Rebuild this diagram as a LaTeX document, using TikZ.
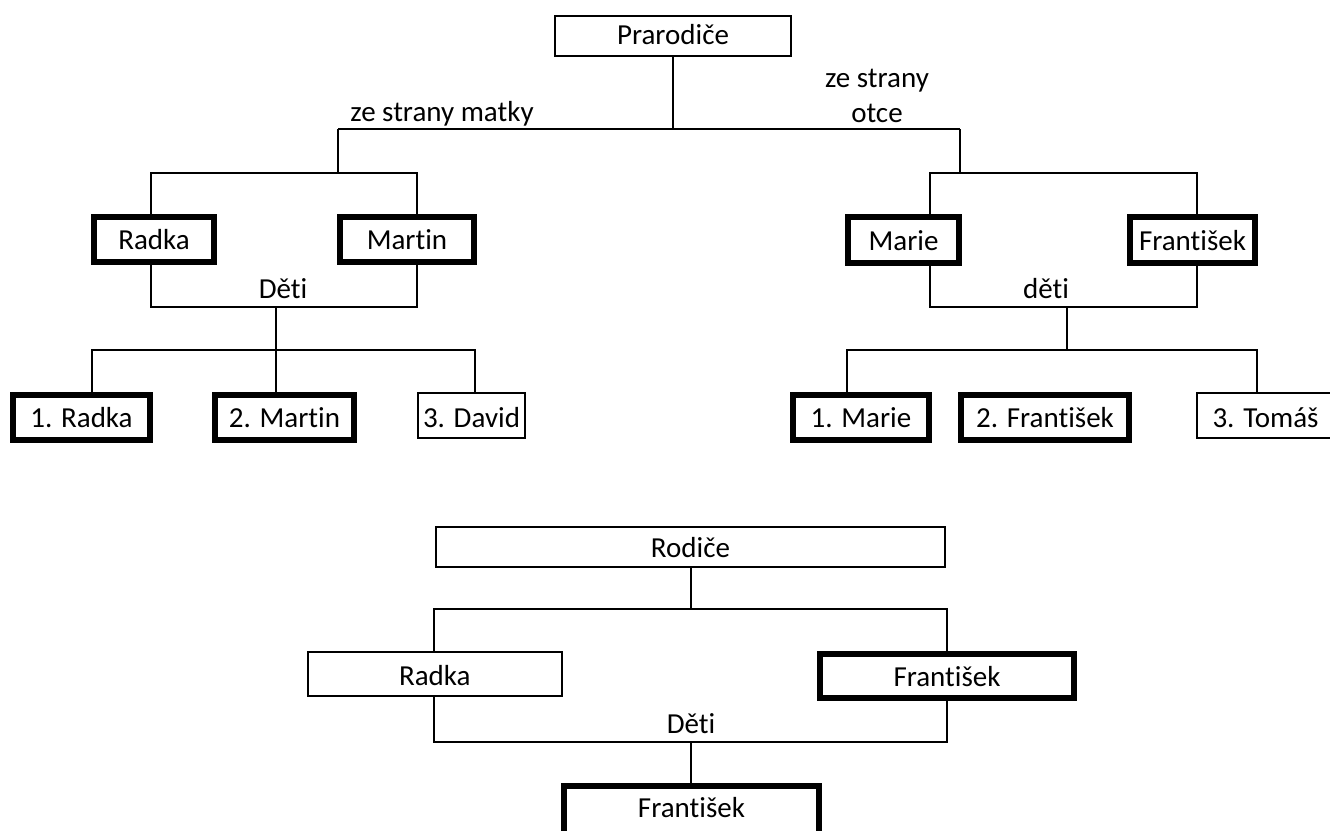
\documentclass[tikz,border=0pt]{standalone}
\usepackage{fontspec}
\setmainfont{Carlito}[Ligatures=NoCommon]
\begin{document}
\begin{tikzpicture}[x=1pt,y=-1pt,
  every node/.style={font=\fontsize{29}{35}\selectfont, inner sep=0pt,
    text height=20pt, text depth=0pt},
  thinbox/.style 2 args={draw, line width=2pt, minimum width=#1, minimum height=#2},
  thickbox/.style 2 args={draw, line width=6pt, minimum width=#1, minimum height=#2},
  low/.style={text height=23pt},
  link/.style={line width=2pt},
  caption/.style={anchor=base}]
\useasboundingbox (0,0) rectangle (1330,830);
\clip (0,0) rectangle (1330,830);

% ---- grandparents ----
\node[thinbox={236}{40}, text height=17pt] (pra) at (673,36) {Prarodiče};

% mother's side
\node[thickbox={120}{45}] (radka) at (154,239.5) {Radka};
\node[thickbox={134}{45}] (martin) at (407,239.5) {Martin};
\node[thickbox={137}{45}] (c1L) at (81.5,417.5) {1. Radka};
\node[thickbox={139}{45}] (c2L) at (284.5,417.5) {2. Martin};
\node[thinbox={107}{45}, low] (c3L) at (471.5,415.5) {3. David};

% father's side
\node[thickbox={111}{46}] (marie) at (903.5,240) {Marie};
\node[thickbox={125}{46}] (frant) at (1192.5,240) {František};
\node[thickbox={136}{45}] (c1R) at (861,417.5) {1. Marie};
\node[thickbox={168}{45}] (c2R) at (1045,417.5) {2. František};
\node[thinbox={150}{45}, low] (c3R) at (1272,415.5) {3. Tomáš\hspace*{13pt}};

% ---- parents ----
\node[thinbox={509}{40}] (rod) at (690.5,547) {Rodiče};
\node[thinbox={254.5}{44}, low] (mom) at (434.75,674) {Radka};
\node[thickbox={254}{44}] (dad) at (947,676) {František};
\node[thickbox={255}{50}, text height=12pt] (kid) at (691.5,811) {František};

% captions
\node[caption] (sideM) at (442,121) {ze strany matky};
\node[caption, align=center] (sideF) at (877,122) {ze strany\\otce};
\node[caption] (detiL) at (283,298) {Děti};
\node[caption] (detiR) at (1046,298) {děti};
\node[caption] (detiB) at (691,733) {Děti};

% junction points
\coordinate (mL) at (338,129);  \coordinate (mR) at (960,129);
\coordinate (gL) at (338,173);  \coordinate (gR) at (960,173);
\coordinate (aL) at (151,173);  \coordinate (bL) at (417,173);
\coordinate (dL) at (417,307);  \coordinate (eL) at (276,307);
\coordinate (fL1) at (92,350);  \coordinate (fL3) at (475,350);
\coordinate (aR) at (930,173);  \coordinate (bR) at (1197,173);
\coordinate (dR) at (1197,307); \coordinate (eR) at (1067,307);
\coordinate (hR) at (1067,350);
\coordinate (fR1) at (846.5,350); \coordinate (fR3) at (1257,350);
\coordinate (jB) at (691,609);  \coordinate (aB) at (434,609);
\coordinate (bB) at (947,609);  \coordinate (dB) at (947,742);
\coordinate (eB) at (691,742);

% grandparents tree
\draw[link] (pra.south) -- (pra.south |- mL);
\draw[link] (mL) -- (mR);
\draw[link] (mL) -- (gL);
\draw[link] (mR) -- (gR);

\draw[link] (radka.north -| aL) -- (aL) -- (bL) -- (martin.north -| bL);
\draw[link] (radka.south -| aL) |- (dL) -- (martin.south -| bL);
\draw[link] (eL) -- (c2L.north -| eL);
\draw[link] (c1L.north -| fL1) |- (fL3) -- (c3L.north -| fL3);

\draw[link] (marie.north -| aR) -- (aR) -- (bR) -- (frant.north -| bR);
\draw[link] (marie.south -| aR) |- (dR) -- (frant.south -| bR);
\draw[link] (eR) -- (hR);
\draw[link] (c1R.north -| fR1) |- (fR3) -- (c3R.north -| fR3);

% parents tree
\draw[link] (rod.south -| jB) -- (jB);
\draw[link] (mom.north -| aB) -- (aB) -- (bB) -- (dad.north -| bB);
\draw[link] (mom.south -| aB) |- (dB) -- (dad.south -| bB);
\draw[link] (eB) -- (kid.north -| eB);
\end{tikzpicture}
\end{document}
